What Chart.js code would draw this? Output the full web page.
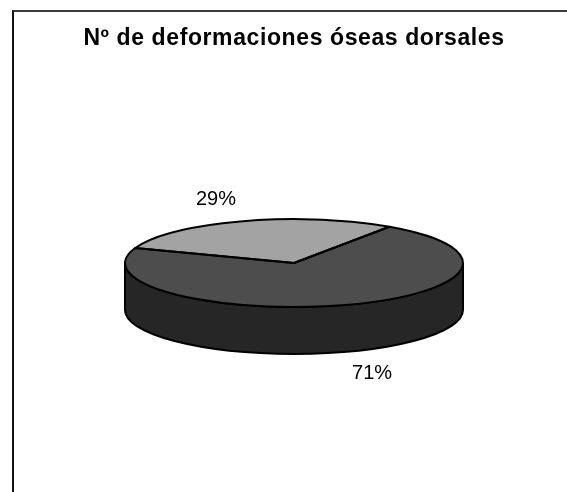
<!DOCTYPE html>
<html>
<head>
<meta charset="utf-8">
<script src="https://cdn.jsdelivr.net/npm/chart.js@4/dist/chart.umd.min.js"></script>
<style>
  html, body { margin: 0; padding: 0; background: #fff; }
  #wrap { position: relative; width: 567px; height: 492px; overflow: hidden; }
  #frame { position: absolute; left: 12px; top: 10px; width: 600px; height: 600px;
           border-left: 2px solid #111; border-top: 2px solid #3a3a3a; pointer-events: none; }
</style>
</head>
<body>
<div id="wrap">
  <canvas id="pie" width="567" height="492"></canvas>
  <div id="frame"></div>
</div>
<script>
const title = 'Nº de deformaciones óseas dorsales';
const categories = ['Grupo 1', 'Grupo 2'];
const values = [29, 71];
const topColors = ['#a3a3a3', '#4d4d4d'];
const sideColors = ['#6a6a6a', '#262626'];

// squashes the pie into an ellipse and adds the side wall, outlines and % labels
const pie3d = {
  id: 'pie3d',
  beforeDraw(chart, args, opts) {
    // the title box is drawn before the datasets; give it a little tracking
    chart.ctx.letterSpacing = opts.titleSpacing;
  },
  beforeDatasetsDraw(chart, args, opts) {
    const ctx = chart.ctx;
    ctx.letterSpacing = '0px';
    const arcs = chart.getDatasetMeta(0).data;
    const { x: cx, y: cy, outerRadius: r } = arcs[0];
    const ry = r * opts.tilt;
    const d = opts.depth;

    // front wall: only the part of each slice lying in [0, PI] is visible
    arcs.forEach((arc, i) => {
      [-2 * Math.PI, 0, 2 * Math.PI].forEach((shift) => {
        const a0 = Math.max(arc.startAngle + shift, 0);
        const a1 = Math.min(arc.endAngle + shift, Math.PI);
        if (a1 <= a0) return;
        ctx.save();
        ctx.beginPath();
        ctx.ellipse(cx, cy, r, ry, 0, a0, a1);
        ctx.lineTo(cx + r * Math.cos(a1), cy + ry * Math.sin(a1) + d);
        ctx.ellipse(cx, cy + d, r, ry, 0, a1, a0, true);
        ctx.closePath();
        ctx.fillStyle = opts.sideColors[i];
        ctx.fill();
        ctx.lineWidth = 2;
        ctx.strokeStyle = '#000';
        ctx.lineJoin = 'round';
        ctx.stroke();
        ctx.restore();
      });
    });

    ctx.save();
    ctx.translate(cx, cy);
    ctx.scale(1, opts.tilt);
    ctx.translate(-cx, -cy);
  },
  afterDatasetsDraw(chart, args, opts) {
    const ctx = chart.ctx;
    ctx.restore();
    const arcs = chart.getDatasetMeta(0).data;
    const { x: cx, y: cy, outerRadius: r } = arcs[0];
    const ry = r * opts.tilt;
    const d = opts.depth;
    const total = values.reduce((a, b) => a + b, 0);

    arcs.forEach((arc) => {
      ctx.save();
      ctx.beginPath();
      ctx.moveTo(cx, cy);
      ctx.lineTo(cx + r * Math.cos(arc.startAngle), cy + ry * Math.sin(arc.startAngle));
      ctx.ellipse(cx, cy, r, ry, 0, arc.startAngle, arc.endAngle);
      ctx.closePath();
      ctx.lineWidth = 2;
      ctx.lineJoin = 'round';
      ctx.strokeStyle = '#000';
      ctx.stroke();
      ctx.restore();
    });

    ctx.save();
    ctx.font = '20px "Liberation Sans", Arial, sans-serif';
    ctx.fillStyle = '#000';
    ctx.textAlign = 'center';
    ctx.textBaseline = 'middle';
    arcs.forEach((arc, i) => {
      const m = (arc.startAngle + arc.endAngle) / 2;
      const ex = r * Math.cos(m);
      const ey = ry * Math.sin(m);
      const len = Math.hypot(ex, ey);
      const drop = Math.sin(m) > 0 ? d : 0;
      const lx = cx + ex + ex / len * opts.labelGap;
      const ly = cy + ey + drop + ey / len * opts.labelGap;
      ctx.fillText(Math.round(values[i] / total * 100) + '%', lx, ly);
    });
    ctx.restore();
  }
};

new Chart(document.getElementById('pie'), {
  type: 'pie',
  data: {
    labels: categories,
    datasets: [{
      data: values,
      backgroundColor: topColors,
      borderWidth: 0,
      hoverOffset: 0
    }]
  },
  options: {
    responsive: false,
    animation: false,
    events: [],
    rotation: -70,
    layout: { padding: { left: 33, right: 12, top: 0, bottom: 60 } },
    plugins: {
      legend: { display: false },
      tooltip: { enabled: false },
      title: {
        display: true,
        text: title,
        color: '#000',
        font: { family: '"Liberation Sans", Arial, sans-serif', size: 23, weight: 'bold', lineHeight: 1.2 },
        padding: { top: 25, bottom: 41.4 }
      },
      pie3d: { tilt: 0.26, depth: 47, labelGap: 34, sideColors, titleSpacing: '0.6px' }
    }
  },
  plugins: [pie3d]
});
</script>
</body>
</html>
